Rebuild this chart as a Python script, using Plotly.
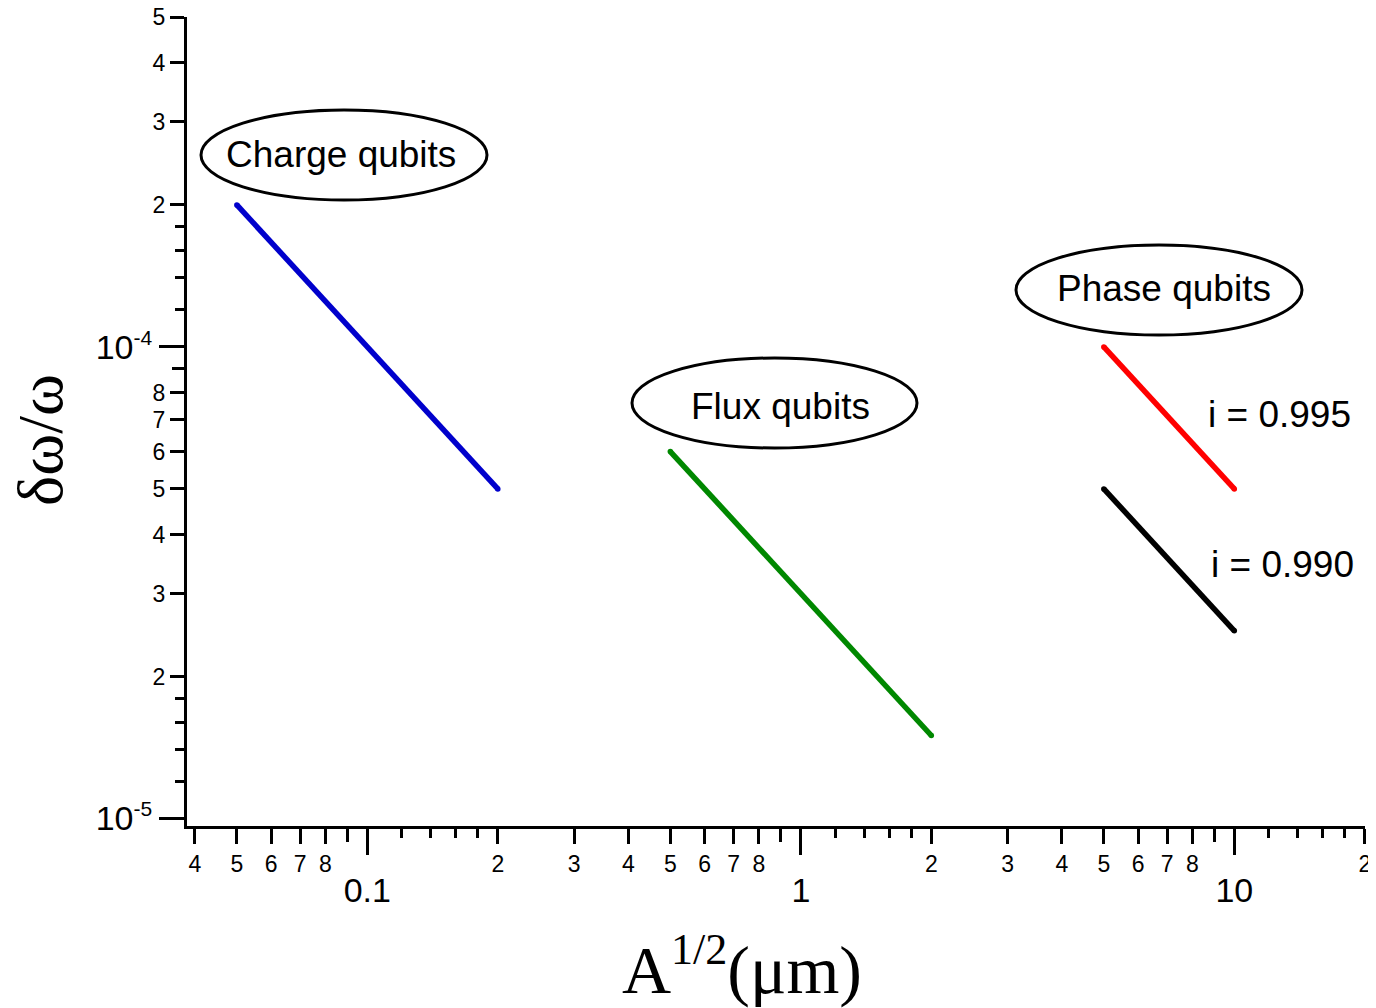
import math
import plotly.graph_objects as go

# ---------------- data ----------------
charge_x = [0.05, 0.2]
charge_y = [2e-4, 5e-5]
flux_x = [0.5, 2.0]
flux_y = [6e-5, 1.5e-5]
phase995_x = [5.0, 10.0]
phase995_y = [1e-4, 5e-5]
phase990_x = [5.0, 10.0]
phase990_y = [5e-5, 2.5e-5]

x_digit_vals = [0.04, 0.05, 0.06, 0.07, 0.08,
                0.2, 0.3, 0.4, 0.5, 0.6, 0.7, 0.8,
                2, 3, 4, 5, 6, 7, 8,
                20]
x_digit_text = ["4", "5", "6", "7", "8",
                "2", "3", "4", "5", "6", "7", "8",
                "2", "3", "4", "5", "6", "7", "8",
                "2"]
x_nine_vals = [0.09, 0.9, 9]
x_sub_vals = [0.12, 0.14, 0.16, 0.18, 1.2, 1.4, 1.6, 1.8, 12, 14, 16, 18]
x_decade_vals = [0.1, 1, 10]
x_decade_text = ["0.1", "1", "10"]

y_digit_vals = [2e-5, 3e-5, 4e-5, 5e-5, 6e-5, 7e-5, 8e-5,
                2e-4, 3e-4, 4e-4, 5e-4]
y_digit_text = ["2", "3", "4", "5", "6", "7", "8",
                "2", "3", "4", "5"]
y_nine_vals = [9e-5]
y_sub_vals = [1.2e-5, 1.4e-5, 1.6e-5, 1.8e-5, 1.2e-4, 1.4e-4, 1.6e-4, 1.8e-4]
y_decade_vals = [1e-5, 1e-4]
y_decade_text = ['10<sup><span style="font-size:21px">-5</span></sup>',
                 '10<sup><span style="font-size:21px">-4</span></sup>']

x_min, x_max = 0.03837, 20.02
y_min, y_max = 0.9643e-5, 5.006e-4

# ---------------- layout geometry ----------------
OFF = 8                     # default page body margin
W, H = 1376 - OFF, 1000
L, R, T = 187 - OFF, 11, 17 - OFF
B = H - (826 - OFF)
PW, PH = W - L - R, H - T - B


def px(x_page):
    return (x_page - OFF - L) / PW


def py(y_page):
    return (H - B - (y_page - OFF)) / PH


SANS = "Arial, Liberation Sans, sans-serif"
SERIF = "Times New Roman, Liberation Serif, serif"

fig = go.Figure()
series = [(charge_x, charge_y, "#0000CC"), (flux_x, flux_y, "#008800"),
          (phase995_x, phase995_y, "#FF0000"), (phase990_x, phase990_y, "#000000")]
for xs, ys, col in series:
    fig.add_trace(go.Scatter(x=xs, y=ys, mode="lines+markers",
                             line=dict(color=col, width=5.5),
                             marker=dict(color=col, size=5.5, line=dict(width=0)),
                             showlegend=False))
# empty traces so the overlay tick axes are drawn
fig.add_trace(go.Scatter(x=[], y=[], xaxis="x2", yaxis="y", showlegend=False))
fig.add_trace(go.Scatter(x=[], y=[], xaxis="x3", yaxis="y", showlegend=False))
fig.add_trace(go.Scatter(x=[], y=[], xaxis="x", yaxis="y2", showlegend=False))
fig.add_trace(go.Scatter(x=[], y=[], xaxis="x", yaxis="y3", showlegend=False))

xr = [math.log10(x_min), math.log10(x_max)]
yr = [math.log10(y_min), math.log10(y_max)]

common = dict(type="log", showgrid=False, zeroline=False, ticks="outside",
              tickcolor="black", tickwidth=3, ticklabeloverflow="allow")

fig.update_layout(
    width=W, height=H,
    margin=dict(l=L, r=R, t=T, b=B, autoexpand=False),
    paper_bgcolor="white", plot_bgcolor="white",
    xaxis=dict(**common, range=xr, tickmode="array", tickvals=x_digit_vals,
               ticktext=x_digit_text, ticklen=15,
               tickfont=dict(family=SANS, size=23, color="black"),
               showline=True, linecolor="black", linewidth=3,
               minor=dict(tickmode="array", tickvals=x_sub_vals, ticks="outside",
                          ticklen=9, tickwidth=3, tickcolor="black", showgrid=False)),
    xaxis2=dict(**common, range=xr, overlaying="x", anchor="y", side="bottom",
                tickmode="array", tickvals=x_decade_vals, ticktext=x_decade_text,
                ticklen=28, ticklabelstandoff=6, showline=False,
                tickfont=dict(family=SANS, size=34, color="black")),
    xaxis3=dict(**common, range=xr, overlaying="x", anchor="y", side="bottom",
                tickmode="array", tickvals=x_nine_vals, ticklen=15,
                showticklabels=False, showline=False),
    yaxis=dict(**common, range=yr, tickmode="array", tickvals=y_digit_vals,
               ticktext=y_digit_text, ticklen=14,
               tickfont=dict(family=SANS, size=23, color="black"),
               showline=True, linecolor="black", linewidth=3,
               minor=dict(tickmode="array", tickvals=y_sub_vals, ticks="outside",
                          ticklen=9, tickwidth=3, tickcolor="black", showgrid=False)),
    yaxis2=dict(**common, range=yr, overlaying="y", anchor="x", side="left",
                tickmode="array", tickvals=y_decade_vals, ticktext=y_decade_text,
                ticklen=27, showline=False,
                tickfont=dict(family=SANS, size=34, color="black")),
    yaxis3=dict(**common, range=yr, overlaying="y", anchor="x", side="left",
                tickmode="array", tickvals=y_nine_vals, ticklen=14,
                showticklabels=False, showline=False),
)

# ellipses around the group labels (page pixel boxes)
ellipses = [(201, 110, 487, 200), (632, 358, 917, 448), (1016, 245, 1302, 335)]
for (x0, y0, x1, y1) in ellipses:
    fig.add_shape(type="circle", xref="paper", yref="paper",
                  x0=px(x0), x1=px(x1), y0=py(y1), y1=py(y0),
                  line=dict(color="black", width=3), fillcolor="rgba(0,0,0,0)")

labels = [("Charge qubits", 341, 155), ("Flux qubits", 780, 406),
          ("Phase qubits", 1164, 289), ("i = 0.995", 1279, 414),
          ("i = 0.990", 1282, 564)]
for text, cx, cy in labels:
    fig.add_annotation(text=text, xref="paper", yref="paper", x=px(cx), y=py(cy),
                       xanchor="center", yanchor="middle", showarrow=False,
                       font=dict(family=SANS, size=37, color="black"))

# axis titles
fig.add_annotation(text="δω/ω", xref="paper", yref="paper", x=px(40), y=py(440),
                   xanchor="center", yanchor="middle", textangle=-90, showarrow=False,
                   font=dict(family=SERIF, size=64, color="black"))
fig.add_annotation(text='A<sup><span style="font-size:44px">1/2</span></sup>(μm)',
                   xref="paper", yref="paper", x=px(742), y=py(966),
                   xanchor="center", yanchor="middle", showarrow=False,
                   font=dict(family=SERIF, size=68, color="black"))

fig.write_html("out.html")
